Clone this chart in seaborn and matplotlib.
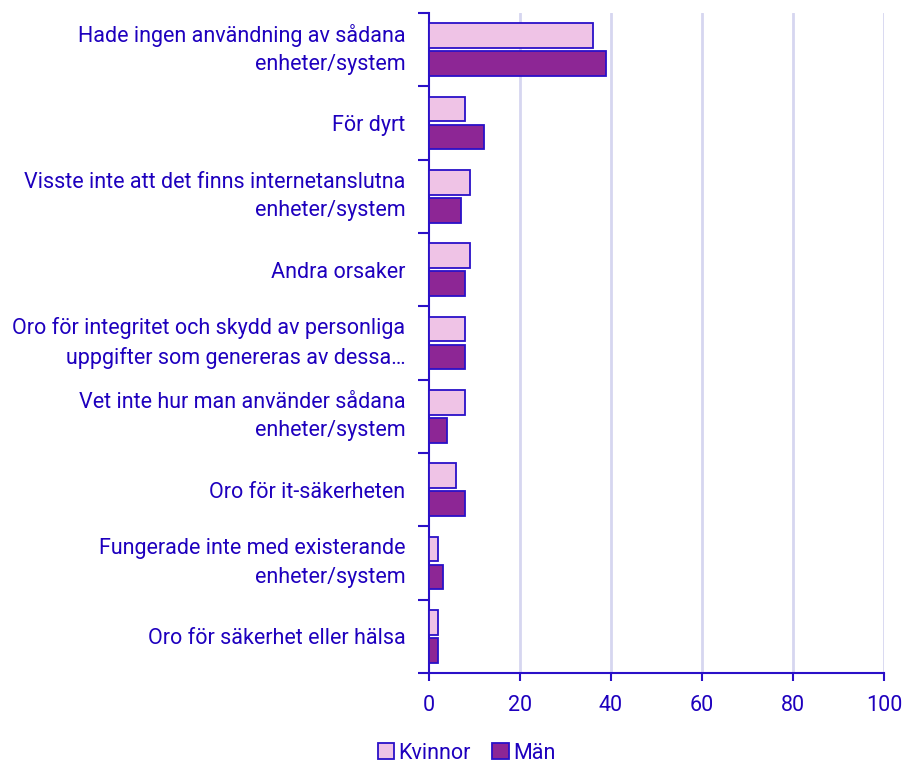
import pandas as pd
import numpy as np
import matplotlib.pyplot as plt
import seaborn as sns

sns.set_style("white")
plt.rcParams['font.family'] = ['Roboto', 'DejaVu Sans']

# Data
categories = [
    "Hade ingen användning av sådana\nenheter/system",
    "För dyrt",
    "Visste inte att det finns internetanslutna\nenheter/system",
    "Andra orsaker",
    "Oro för integritet och skydd av personliga\nuppgifter som genereras av dessa…",
    "Vet inte hur man använder sådana\nenheter/system",
    "Oro för it-säkerheten",
    "Fungerade inte med existerande\nenheter/system",
    "Oro för säkerhet eller hälsa",
]
kvinnor = [36, 8, 9, 9, 8, 8, 6, 2, 2]
man = [39, 12, 7, 8, 8, 4, 8, 3, 2]
series = ["Kvinnor", "Män"]
x_ticks = [0, 20, 40, 60, 80, 100]

text_col = "#1E00BE"
edge_col = "#2A10C8"
grid_col = "#D6D6F0"
colors = {"Kvinnor": "#EFC3E6", "Män": "#8D2695"}
fs = 15.5

df = pd.DataFrame({
    "Orsak": categories * 2,
    "Kön": [series[0]] * len(categories) + [series[1]] * len(categories),
    "Andel": kvinnor + man,
})

fig = plt.figure(figsize=(9.15, 7.64), dpi=100)
ax = fig.add_axes([429 / 915, 1 - 673 / 764, (884 - 429) / 915, (673 - 13) / 764])

sns.barplot(data=df, y="Orsak", x="Andel", hue="Kön", orient="h",
            palette=colors, saturation=1, width=0.76, gap=0.12, edgecolor=edge_col,
            linewidth=1.3, ax=ax, legend=False, zorder=3)

ax.set_xlim(0, 100)
ax.set_ylim(len(categories) - 0.5, -0.5)
ax.set_xlabel("")
ax.set_ylabel("")

# vertical gridlines
for v in x_ticks[1:]:
    ax.axvline(v, color=grid_col, lw=2, zorder=0)

ax.set_xticks(x_ticks)
ax.set_xticklabels([str(t) for t in x_ticks])
ax.tick_params(axis="x", colors=edge_col, length=6, width=1.5, labelsize=fs,
               labelcolor=text_col, pad=10, bottom=True)

# category boundary ticks on y, labels at centres
ax.set_yticks(np.arange(-0.5, len(categories), 1.0))
ax.set_yticklabels([])
ax.set_yticks(np.arange(len(categories)), minor=True)
ax.set_yticklabels(categories, minor=True)
ax.tick_params(axis="y", which="major", colors=edge_col, length=8, width=1.5, left=True)
ax.tick_params(axis="y", which="minor", length=0, labelsize=fs, labelcolor=text_col, pad=17)
for lab in ax.get_yticklabels(minor=True):
    lab.set_horizontalalignment("right")
    lab.set_multialignment("right")
    if "\n" in lab.get_text():
        lab.set_verticalalignment("center")
        lab.set_linespacing(1.45)

for s in ["top", "right"]:
    ax.spines[s].set_visible(False)
for s in ["left", "bottom"]:
    ax.spines[s].set_color(edge_col)
    ax.spines[s].set_linewidth(1.5)

handles = [plt.Rectangle((0, 0), 1, 1, facecolor=colors[s], edgecolor=edge_col, lw=1.3)
           for s in series]
fig.legend(handles, series, loc="lower center", bbox_to_anchor=(0.51, -0.025), ncol=2,
           frameon=False, fontsize=fs, handlelength=0.75, handleheight=0.75,
           handletextpad=0.2, columnspacing=1.0, labelcolor=text_col)

fig.savefig("out.png", dpi=100)
